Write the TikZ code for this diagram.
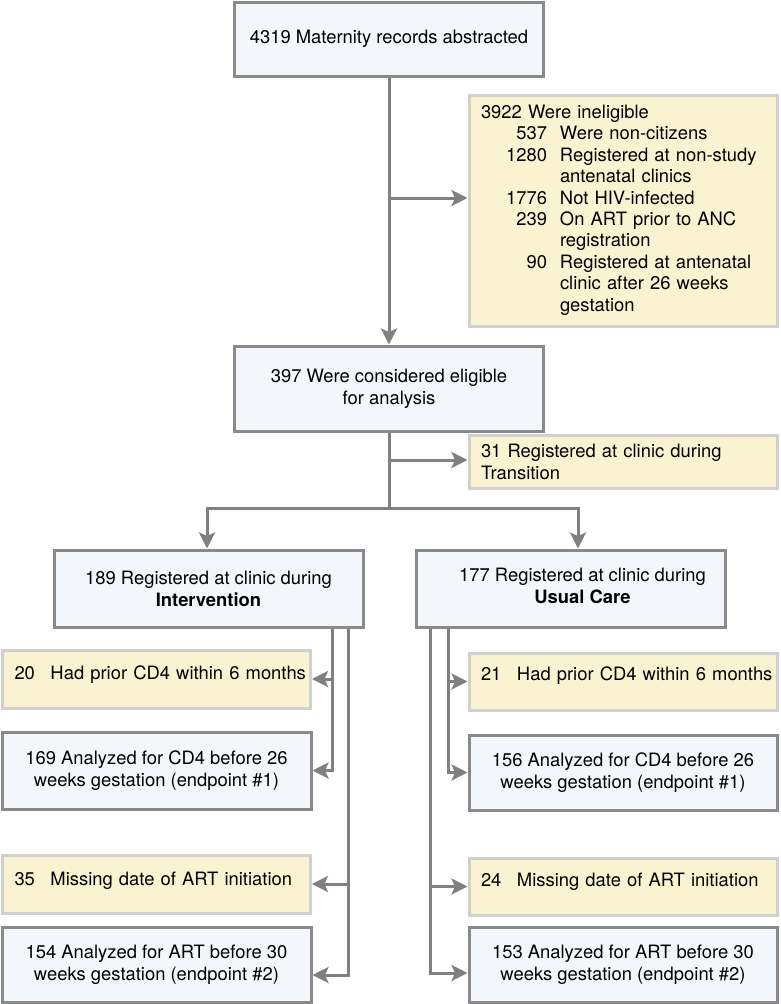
\documentclass[tikz,border=0pt]{standalone}
\usepackage{fontspec}
\setmainfont{TeX Gyre Heros}
\usetikzlibrary{arrows.meta}
\definecolor{bluefill}{HTML}{F3F7FC}
\definecolor{bordergray}{HTML}{8A8A8A}
\definecolor{yfill}{HTML}{FAF3D2}
\definecolor{yborder}{HTML}{D0D0D0}
\definecolor{linegray}{HTML}{808080}
\newcommand\nm[1]{\makebox[66pt][r]{#1}}
\newcommand\yl[3]{\raisebox{#1}{\makebox[36pt][l]{#2}#3}}
\begin{document}
\begin{tikzpicture}[x=1pt,y=-1pt,
  every node/.style={font=\fontsize{18.4}{22}\selectfont, inner sep=0pt},
  bluebox/.style={draw=bordergray, line width=3pt, fill=bluefill, minimum width=309pt, align=center},
  ylwbox/.style={draw=yborder, line width=3pt, fill=yfill, text width=284pt, inner xsep=12pt, align=left},
  conn/.style={draw=linegray, line width=3pt},
  arr/.style={conn, -{Stealth[length=16pt,width=16pt,inset=3.5pt]}}
]
\useasboundingbox (0,0) rectangle (780,1004);

% boxes
\node[bluebox, minimum height=74pt] (top) at (389,39) {4319 Maternity records abstracted};
\node[ylwbox, minimum height=231pt] (inel) at (623,210.5) {\raisebox{3pt}{\fontsize{18.4}{21.4}\selectfont\begin{tabular}{@{}l@{\hspace{13pt}}l@{}}
\multicolumn{2}{@{}l@{}}{3922 Were ineligible}\\
\nm{537} & Were non-citizens\\
\nm{1280} & Registered at non-study\\
 & antenatal clinics\\
\nm{1776} & Not HIV-infected\\
\nm{239} & On ART prior to ANC\\
 & registration\\
\nm{90} & Registered at antenatal\\
 & clinic after 26 weeks\\
 & gestation
\end{tabular}}};
\node[bluebox, minimum height=85pt] (elig) at (389,388.5) {397 Were considered eligible\\for analysis};
\node[ylwbox, minimum height=53pt] (trans) at (623,461.5) {31 Registered at clinic during\\Transition};
\node[bluebox, minimum height=77pt] (interv) at (208.5,588.5) {189 Registered at clinic during\\\textbf{Intervention}};
\node[bluebox, minimum height=77pt] (usual) at (570.5,588.5) {\hspace*{24pt}\begin{tabular}{@{}c@{}}177 Registered at clinic during\\\textbf{Usual Care}\end{tabular}};
\node[ylwbox, minimum height=58pt] (p20) at (156.5,679) {\yl{13pt}{20}{Had prior CD4 within 6 months}};
\node[ylwbox, minimum height=57pt] (p21) at (623,681.5) {\yl{15pt}{21}{Had prior CD4 within 6 months}};
\node[bluebox, minimum height=77pt] (a169) at (156.5,770.5) {169 Analyzed for CD4 before 26\\weeks gestation (endpoint \#1)};
\node[bluebox, minimum width=308pt, minimum height=75pt] (a156) at (623,772.5) {156 Analyzed for CD4 before 26\\weeks gestation (endpoint \#1)};
\node[ylwbox, minimum height=58pt] (m35) at (156.5,884) {\yl{11pt}{35}{Missing date of ART initiation}};
\node[ylwbox, minimum height=57pt] (m24) at (623,886.5) {\yl{13pt}{24}{Missing date of ART initiation}};
\node[bluebox, minimum height=75pt] (a154) at (156.5,964.5) {154 Analyzed for ART before 30\\weeks gestation (endpoint \#2)};
\node[bluebox, minimum width=308pt, minimum height=75pt] (a153) at (623,964.5) {153 Analyzed for ART before 30\\weeks gestation (endpoint \#2)};

% junction coordinates
\coordinate (j1) at (389,198);
\coordinate (j2) at (389,460);
\coordinate (j3) at (389,508);
\coordinate (bl) at (207,508);
\coordinate (br) at (578,508);
\coordinate (xa) at (332,0);
\coordinate (xb) at (348,0);
\coordinate (xc) at (430,0);
\coordinate (xd) at (448,0);
\coordinate (e154) at (348,975);
\coordinate (e153) at (430,973);

% connectors
\draw[arr] (top.south) -- (elig.north);
\draw[arr] (j1) -- (j1 -| inel.west);
\draw[conn] (elig.south) -- (j3);
\draw[arr] (j2) -- (j2 -| trans.west);
\draw[arr] (j3) -- (bl) -- (bl |- interv.north);
\draw[arr] (j3) -- (br) -- (br |- usual.north);

\draw[arr] (interv.south -| xa) |- (a169.east);
\draw[arr] (xa |- p20.east) -- (p20.east);
\draw[arr] (interv.south -| xb) -- (e154) -- (e154 -| a154.east);
\draw[arr] (xb |- m35.east) -- (m35.east);

\draw[arr] (usual.south -| xd) |- (a156.west);
\draw[arr] (xd |- p21.west) -- (p21.west);
\draw[arr] (usual.south -| xc) -- (e153) -- (e153 -| a153.west);
\draw[arr] (xc |- m24.west) -- (m24.west);
\end{tikzpicture}
\end{document}
